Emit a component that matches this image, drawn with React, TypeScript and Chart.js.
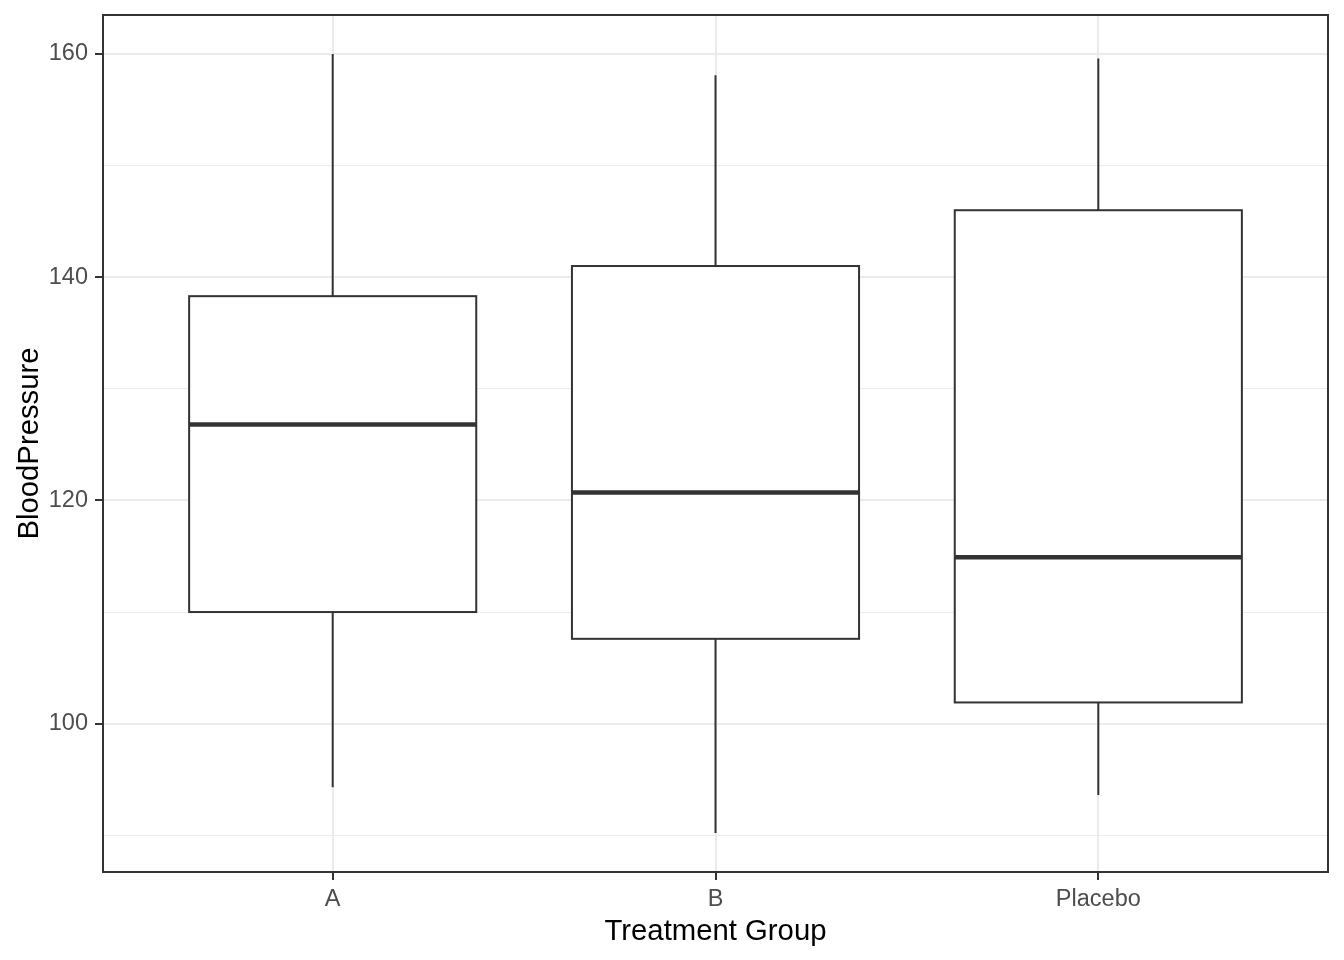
import React, { useEffect, useRef } from 'react';
import { Chart, registerables } from 'chart.js';

Chart.register(...registerables);

const categories = ['A', 'B', 'Placebo'];
const whiskerLow = [94.3, 90.2, 93.6];
const q1 = [110.0, 107.6, 101.9];
const median = [126.8, 120.7, 114.9];
const q3 = [138.3, 141.0, 146.0];
const whiskerHigh = [160.0, 158.1, 159.6];
const yTicks = [90, 100, 110, 120, 130, 140, 150, 160];
const yLabelled = [100, 120, 140, 160];

const FONT = "'Liberation Sans', Arial, sans-serif";
const INK = '#333333';

const boxPlugin = {
  id: 'boxExtras',
  beforeDatasetsDraw(chart: any) {
    const { ctx, scales } = chart;
    const xs = scales.x;
    const ys = scales.y;
    ctx.save();
    ctx.strokeStyle = INK;
    ctx.lineWidth = 2;
    categories.forEach((_, i) => {
      const x = xs.getPixelForValue(i);
      ctx.beginPath();
      ctx.moveTo(x, ys.getPixelForValue(whiskerHigh[i]));
      ctx.lineTo(x, ys.getPixelForValue(q3[i]));
      ctx.moveTo(x, ys.getPixelForValue(q1[i]));
      ctx.lineTo(x, ys.getPixelForValue(whiskerLow[i]));
      ctx.stroke();
    });
    ctx.restore();
  },
  afterDatasetsDraw(chart: any) {
    const { ctx, scales, chartArea } = chart;
    const ys = scales.y;
    const meta = chart.getDatasetMeta(0);
    ctx.save();
    ctx.strokeStyle = INK;
    meta.data.forEach((bar: any, i: number) => {
      const left = bar.x - bar.width / 2;
      const top = ys.getPixelForValue(q3[i]);
      const bottom = ys.getPixelForValue(q1[i]);
      ctx.lineWidth = 2;
      ctx.strokeRect(left, top, bar.width, bottom - top);
      const y = ys.getPixelForValue(median[i]);
      ctx.lineWidth = 4.5;
      ctx.beginPath();
      ctx.moveTo(left, y);
      ctx.lineTo(left + bar.width, y);
      ctx.stroke();
    });
    ctx.lineWidth = 2;
    ctx.strokeRect(
      chartArea.left,
      chartArea.top,
      chartArea.right - chartArea.left,
      chartArea.bottom - chartArea.top
    );
    ctx.restore();
  },
};

export default function App() {
  const ref = useRef<HTMLCanvasElement | null>(null);

  useEffect(() => {
    if (!ref.current) return;
    const lo = Math.min(...whiskerLow);
    const hi = Math.max(...whiskerHigh);
    const pad = (hi - lo) * 0.05;
    const chart = new Chart(ref.current, {
      type: 'bar',
      data: {
        datasets: [
          {
            data: categories.map((_, i) => ({ x: i, y: [q1[i], q3[i]] })) as any,
            backgroundColor: '#FFFFFF',
            borderWidth: 0,
            barPercentage: 0.75,
            categoryPercentage: 1,
          },
        ],
      },
      options: {
        animation: false,
        responsive: false,
        maintainAspectRatio: false,
        layout: { padding: { left: 0, top: 15, right: 16, bottom: 0 } },
        plugins: {
          legend: { display: false },
          tooltip: { enabled: false },
        },
        scales: {
          x: {
            type: 'linear',
            offset: false,
            min: -0.6,
            max: 2.6,
            afterBuildTicks: (s: any) => {
              s.ticks = categories.map((_, i) => ({ value: i }));
            },
            afterFit: (s: any) => {
              s.height = 88;
              s.paddingLeft = 0;
              s.paddingRight = 0;
            },
            ticks: {
              callback: (v: any) => categories[v as number] ?? '',
              color: '#4D4D4D',
              font: { family: FONT, size: 23.5 },
              padding: 5,
              maxRotation: 0,
              autoSkip: false,
            },
            grid: {
              offset: false,
              color: '#EBEBEB',
              lineWidth: 2,
              tickLength: 8,
              tickColor: INK,
              tickWidth: 2,
            },
            border: { display: false },
            title: {
              display: true,
              text: 'Treatment Group',
              color: '#000000',
              font: { family: FONT, size: 29.3 },
              padding: { top: 0, bottom: 11 },
            },
          },
          y: {
            type: 'linear',
            min: lo - pad,
            max: hi + pad,
            afterBuildTicks: (s: any) => {
              s.ticks = yTicks.map((v) => ({ value: v }));
            },
            afterFit: (s: any) => {
              s.width = 103;
              s.paddingTop = 0;
              s.paddingBottom = 0;
            },
            ticks: {
              callback: (v: any) => (yLabelled.includes(v as number) ? String(v) : ''),
              color: '#4D4D4D',
              font: { family: FONT, size: 23.5 },
              padding: 7,
              autoSkip: false,
            },
            grid: {
              color: '#EBEBEB',
              lineWidth: (c: any) => (yLabelled.includes(c.tick?.value) ? 2 : 1),
              tickLength: 8,
              tickColor: (c: any) => (yLabelled.includes(c.tick?.value) ? INK : 'rgba(0,0,0,0)'),
              tickWidth: 2,
            },
            border: { display: false },
            title: {
              display: true,
              text: 'BloodPressure',
              color: '#000000',
              font: { family: FONT, size: 29.3 },
              padding: { top: 12, bottom: 0 },
            },
          },
        },
      },
      plugins: [boxPlugin],
    });
    return () => chart.destroy();
  }, []);

  return (
    <div style={{ position: 'absolute', left: 0, top: 0, width: 1344, height: 960, background: '#FFFFFF' }}>
      <canvas ref={ref} width={1344} height={960} style={{ display: 'block' }} />
    </div>
  );
}
